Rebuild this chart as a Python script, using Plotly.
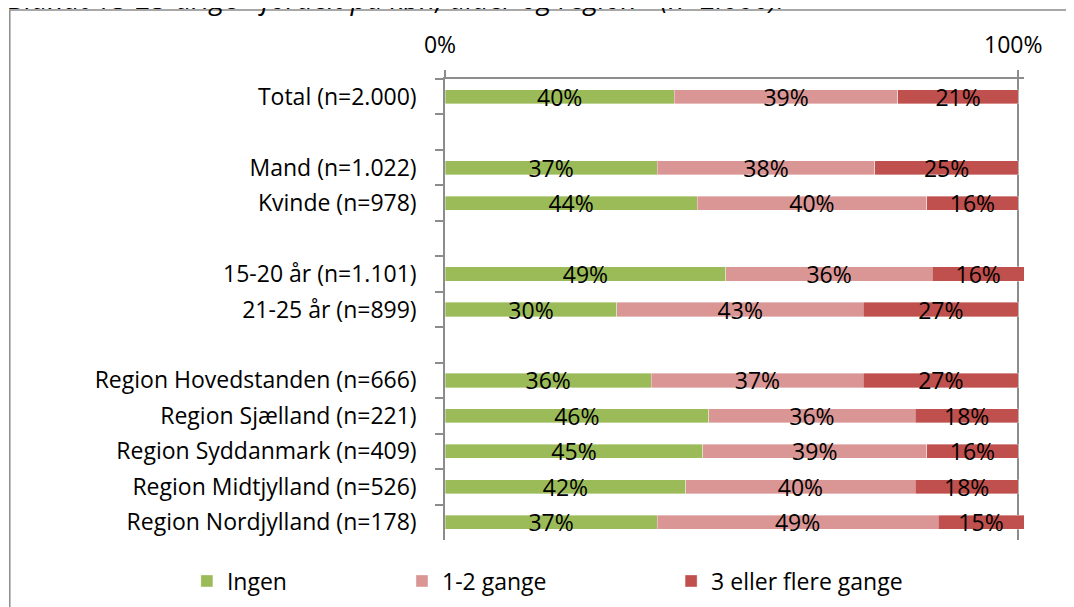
import plotly.graph_objects as go

categories = [
    "Total (n=2.000)", " ",
    "Mand (n=1.022)", "Kvinde (n=978)", "  ",
    "15-20 år (n=1.101)", "21-25 år (n=899)", "   ",
    "Region Hovedstanden (n=666)", "Region Sjælland (n=221)",
    "Region Syddanmark (n=409)", "Region Midtjylland (n=526)",
    "Region Nordjylland (n=178)",
]
ingen = [40, None, 37, 44, None, 49, 30, None, 36, 46, 45, 42, 37]
en_to = [39, None, 38, 40, None, 36, 43, None, 37, 36, 39, 40, 49]
tre_plus = [21, None, 25, 16, None, 16, 27, None, 27, 18, 16, 18, 15]
series_names = ["Ingen", "1-2 gange", "3 eller flere gange"]
colors = ["#9BBB59", "#D99694", "#C0504D"]
x_ticks = [0, 1]
x_ticktext = ["0%", "100%"]
title_text = "Blandt 15-25-årige - fordelt på køn, alder og region - (n=2.000)."

FONT = "Open Sans"
FS = 23
OFF = 8                      # page body margin
W, H = 1074 - OFF, 607 - OFF
X0, X100, YT, YB = 445, 1018, 79, 540   # reference pixel positions
XMAX = 1.01
pw = (X100 - X0) * XMAX
ph = YB - YT
L = X0 - OFF
T = YT - OFF
R = W - L - pw
B = H - (YB - OFF)

def px_x(p):
    return (p - X0) / pw

def px_y(p):
    return (YB - p) / ph

fig = go.Figure()
for i, (name, vals, col) in enumerate(zip(series_names, [ingen, en_to, tre_plus], colors)):
    fig.add_trace(go.Bar(
        y=categories,
        x=[v / 100 if v is not None else None for v in vals],
        orientation="h",
        name=name,
        marker=dict(color=col, line=dict(width=0.6, color="rgba(255,255,255,0.6)")),
        width=0.4,
        text=[f"{v}%" if v is not None else "" for v in vals],
        textposition="inside",
        insidetextanchor="middle",
        constraintext="none",
        textfont=dict(family=FONT, size=FS, color="black"),
        cliponaxis=False,
        legend="legend" if i == 0 else f"legend{i+1}",
        hoverinfo="skip",
    ))

legend_centers = [207, 422, 691]
legend_common = dict(
    orientation="h", yanchor="middle", xanchor="left",
    font=dict(family=FONT, size=FS, color="black"),
    bgcolor="rgba(0,0,0,0)", borderwidth=0,
)
fig.update_layout(
    width=W, height=H,
    margin=dict(l=L, r=R, t=T, b=B, autoexpand=False),
    barmode="stack",
    plot_bgcolor="white", paper_bgcolor="white",
    font=dict(family=FONT, size=FS, color="black"),
    showlegend=True,
    legend=dict(x=px_x(legend_centers[0] - 20), y=px_y(581), **legend_common),
    legend2=dict(x=px_x(legend_centers[1] - 20), y=px_y(581), **legend_common),
    legend3=dict(x=px_x(legend_centers[2] - 20), y=px_y(581), **legend_common),
    xaxis=dict(
        side="top", range=[0, XMAX], tickvals=x_ticks, ticktext=x_ticktext,
        showline=True, linecolor="#8C8C8C", linewidth=1.5,
        ticks="outside", ticklen=7, tickcolor="#8C8C8C", tickwidth=1.5,
        showgrid=True, gridcolor="#8C8C8C", gridwidth=1.5,
        zeroline=False, fixedrange=True,
        ticklabelstandoff=8, ticklabelshift=-5,
        tickfont=dict(family=FONT, size=FS, color="black"),
    ),
    yaxis=dict(
        type="category", categoryorder="array", categoryarray=categories,
        autorange="reversed",
        showline=True, linecolor="#8C8C8C", linewidth=1.5,
        ticks="outside", ticklen=8, tickcolor="#8C8C8C", tickwidth=1.5,
        tickson="boundaries", showgrid=False, zeroline=False,
        ticklabelstandoff=22,
        tickfont=dict(family=FONT, size=FS, color="black"),
    ),
    shapes=[dict(
        type="rect", xref="paper", yref="paper",
        x0=px_x(10), x1=px_x(1200), y0=px_y(700), y1=px_y(10),
        line=dict(color="#8C8C8C", width=1.5), fillcolor="rgba(0,0,0,0)", layer="below",
    )],
    annotations=[dict(
        text=f"<i>{title_text}</i>", xref="paper", yref="paper",
        x=px_x(6), y=px_y(-2), xanchor="left", yanchor="middle",
        showarrow=False, font=dict(family=FONT, size=28, color="black"),
    )],
)

fig.write_html("out.html")
